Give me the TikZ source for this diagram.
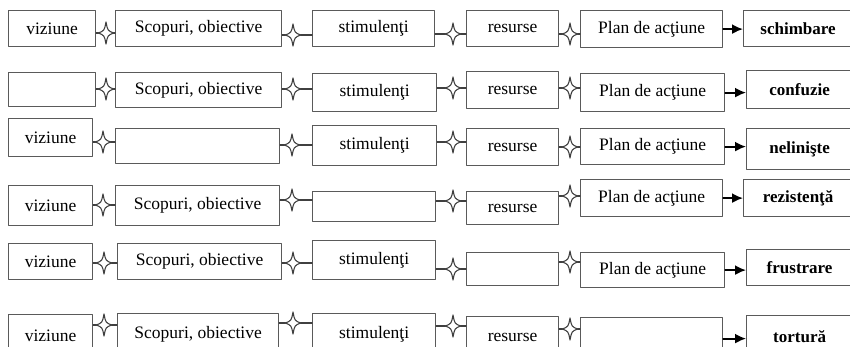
\documentclass[tikz,border=0pt]{standalone}
\usepackage{fontspec}
\setmainfont{Liberation Serif}
\usepackage{tikz}
\usetikzlibrary{arrows.meta,calc}
\definecolor{boxline}{HTML}{5A5A5A}
\definecolor{sparkgray}{HTML}{404040}
\tikzset{
every picture/.style={line cap=round,line join=round},
stage box/.style={
  draw=boxline,
  line width=1.2pt,
  anchor=north west,
  inner sep=0pt,
  align=center,
  font=\fontsize{17.5}{19}\selectfont
},
end box/.style={stage box, font=\fontsize{17}{19}\selectfont\bfseries},
spark/.style={minimum width=15pt, minimum height=22pt, inner sep=0pt, outer sep=0pt},
spark line/.style={draw=sparkgray, line width=1.1pt},
lead/.style={draw=black, line width=1.8pt, -{Latex[length=11pt,width=10pt]}}
}

\begin{document}
\begin{tikzpicture}[x=1pt,y=-1pt]
\useasboundingbox (0,0) rectangle (850,346);
\clip (0,0) rectangle (850,346);
% row 1 -- schimbare
\node[stage box,minimum width=87pt,minimum height=36pt] (viz1) at (8,10) {viziune};
\node[stage box,minimum width=166pt,minimum height=36pt] (goal1) at (115,10) {Scopuri, obiective};
\node[stage box,minimum width=122pt,minimum height=36pt] (stim1) at (312,10) {stimulenţi};
\node[stage box,minimum width=92pt,minimum height=36pt] (res1) at (466,10) {resurse};
\node[stage box,minimum width=142pt,minimum height=37pt] (plan1) at (580,10) {Plan de acţiune};
\node[end box,minimum width=109pt,minimum height=36pt] (out1) at (743,10) {schimbare};
\node[spark] (sa1) at (106,33) {};
\node[spark] (sb1) at (293,35) {};
\node[spark] (sc1) at (453,34) {};
\node[spark] (sd1) at (570,34) {};
% row 2 -- confuzie
\node[stage box,minimum width=87pt,minimum height=34pt] (viz2) at (8,72) {};
\node[stage box,minimum width=166pt,minimum height=35pt] (goal2) at (115,72) {Scopuri, obiective};
\node[stage box,minimum width=124pt,minimum height=38pt] (stim2) at (312,73) {stimulenţi};
\node[stage box,minimum width=92pt,minimum height=37pt] (res2) at (466,71) {resurse};
\node[stage box,minimum width=144pt,minimum height=38pt] (plan2) at (580,73) {Plan de acţiune};
\node[end box,minimum width=106pt,minimum height=38pt] (out2) at (746,70) {confuzie};
\node[spark] (sa2) at (106,89) {};
\node[spark] (sb2) at (293,89) {};
\node[spark] (sc2) at (453,88) {};
\node[spark] (sd2) at (570,88) {};
% row 3 -- neliniste
\node[stage box,minimum width=84pt,minimum height=38pt] (viz3) at (8,118) {viziune};
\node[stage box,minimum width=164pt,minimum height=35pt] (goal3) at (115,128) {};
\node[stage box,minimum width=124pt,minimum height=40pt] (stim3) at (312,125) {stimulenţi};
\node[stage box,minimum width=92pt,minimum height=37pt] (res3) at (466,128) {resurse};
\node[stage box,minimum width=144pt,minimum height=36pt] (plan3) at (580,128) {Plan de acţiune};
\node[end box,minimum width=106pt,minimum height=41pt] (out3) at (746,128) {nelinişte};
\node[spark] (sa3) at (103,142) {};
\node[spark] (sb3) at (292,145) {};
\node[spark] (sc3) at (453,142) {};
\node[spark] (sd3) at (570,147) {};
% row 4 -- rezistenta
\node[stage box,minimum width=84pt,minimum height=40pt] (viz4) at (8,185) {viziune};
\node[stage box,minimum width=164pt,minimum height=40pt] (goal4) at (115,185) {Scopuri, obiective};
\node[stage box,minimum width=123pt,minimum height=30pt] (stim4) at (312,191) {};
\node[stage box,minimum width=92pt,minimum height=33pt] (res4) at (466,191) {resurse};
\node[stage box,minimum width=142pt,minimum height=37pt] (plan4) at (580,179) {Plan de acţiune};
\node[end box,minimum width=109pt,minimum height=37pt] (out4) at (743,179) {rezistenţă};
\node[spark] (sa4) at (103,205) {};
\node[spark] (sb4) at (292,200) {};
\node[spark] (sc4) at (453,201) {};
\node[spark] (sd4) at (570,196) {};
% row 5 -- frustrare
\node[stage box,minimum width=84pt,minimum height=36pt] (viz5) at (8,243) {viziune};
\node[stage box,minimum width=164pt,minimum height=36pt] (goal5) at (117,243) {Scopuri, obiective};
\node[stage box,minimum width=123pt,minimum height=39pt] (stim5) at (312,240) {stimulenţi};
\node[stage box,minimum width=92pt,minimum height=33pt] (res5) at (466,252) {};
\node[stage box,minimum width=144pt,minimum height=35pt] (plan5) at (580,252) {Plan de acţiune};
\node[end box,minimum width=106pt,minimum height=36pt] (out5) at (746,249) {frustrare};
\node[spark] (sa5) at (104,263) {};
\node[spark] (sb5) at (293,263) {};
\node[spark] (sc5) at (453,269) {};
\node[spark] (sd5) at (570,262) {};
% row 6 -- tortura
\node[stage box,minimum width=84pt,minimum height=42pt] (viz6) at (8,314) {viziune};
\node[stage box,minimum width=161pt,minimum height=42pt] (goal6) at (117,313) {Scopuri, obiective};
\node[stage box,minimum width=123pt,minimum height=42pt] (stim6) at (312,313) {stimulenţi};
\node[stage box,minimum width=92pt,minimum height=42pt] (res6) at (466,316) {resurse};
\node[stage box,minimum width=142pt,minimum height=42pt] (plan6) at (580,317) {};
\node[end box,minimum width=106pt,minimum height=42pt] (out6) at (746,315) {tortură};
\node[spark] (sa6) at (104,325) {};
\node[spark] (sb6) at (293,323) {};
\node[spark] (sc6) at (453,326) {};
\node[spark] (sd6) at (570,329) {};
% stars, stubs and arrows
\foreach \r in {1,...,6} {
  \foreach \a/\s/\b in {viz/sa/goal, goal/sb/stim, stim/sc/res, res/sd/plan} {
    \draw[spark line] (\a\r.east |- \s\r.west) -- (\s\r.west)
      (\s\r.east) -- (\s\r.east -| \b\r.west);
    \draw[spark line] (\s\r.north)
      .. controls ($(\s\r.center)!.22!(\s\r.north east)$) .. (\s\r.east)
      .. controls ($(\s\r.center)!.22!(\s\r.south east)$) .. (\s\r.south)
      .. controls ($(\s\r.center)!.22!(\s\r.south west)$) .. (\s\r.west)
      .. controls ($(\s\r.center)!.22!(\s\r.north west)$) .. cycle;
  }
  \draw[lead] (plan\r.east) -- (plan\r.east -| out\r.west);
}
\end{tikzpicture}
\end{document}
